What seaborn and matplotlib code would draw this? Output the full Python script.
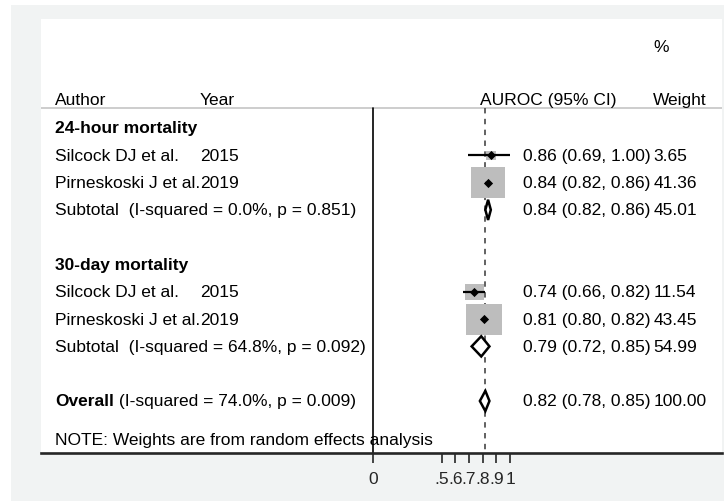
import numpy as np
import pandas as pd
import seaborn as sns
import matplotlib.pyplot as plt
from matplotlib.patches import Rectangle, Polygon
from matplotlib.path import Path
import matplotlib.transforms as mtransforms

# ---- data -------------------------------------------------------------
groups = ["24-hour mortality", "30-day mortality"]
study_group = [0, 0, 1, 1]
authors = ["Silcock DJ et al.", "Pirneskoski J et al.", "Silcock DJ et al.", "Pirneskoski J et al."]
years = ["2015", "2019", "2015", "2019"]
est = [0.86, 0.84, 0.74, 0.81]
lo = [0.69, 0.82, 0.66, 0.80]
hi = [1.00, 0.86, 0.82, 0.82]
weight = [3.65, 41.36, 11.54, 43.45]

sub_est = [0.84, 0.79]
sub_lo = [0.82, 0.72]
sub_hi = [0.86, 0.85]
sub_weight = [45.01, 54.99]
sub_het = ["(I-squared = 0.0%, p = 0.851)", "(I-squared = 64.8%, p = 0.092)"]

overall_est, overall_lo, overall_hi, overall_weight = 0.82, 0.78, 0.85, 100.00
overall_het = "(I-squared = 74.0%, p = 0.009)"

tick_values = [0, 0.5, 0.6, 0.7, 0.8, 0.9, 1.0]
tick_labels = ["0", ".5", ".6", ".7", ".8", ".9", "1"]

# ---- row layout -------------------------------------------------------
y = 0
study_rows = []
sub_rows = []
group_rows = []
for g in range(len(groups)):
    group_rows.append(y)
    y += 1
    for i, sg in enumerate(study_group):
        if sg == g:
            study_rows.append(y)
            y += 1
    sub_rows.append(y)
    y += 2
overall_row = y
note_row = overall_row + 1.4

df = pd.DataFrame({"est": est, "lo": lo, "hi": hi, "weight": weight, "row": study_rows})

# ---- style ------------------------------------------------------------
sns.set_theme(style="white")
plt.rcParams["font.family"] = ["Liberation Sans", "DejaVu Sans"]
FS = 12.5

fig = plt.figure(figsize=(7.26, 5.02), dpi=100)
fig.patch.set_facecolor("white")
# light grey frame behind the plot panel
fig.patches.append(Rectangle((11 / 726, 0), 713 / 726, 496 / 502,
                             transform=fig.transFigure, facecolor="#f1f3f3",
                             edgecolor="none", zorder=-10))

ax = fig.add_axes([41 / 726, 48 / 502, 681 / 726, 434 / 502])
ax.set_zorder(1)
ax.set_facecolor("white")

for s in ["top", "left", "right"]:
    ax.spines[s].set_visible(False)
ax.spines["bottom"].set_linewidth(1.9)
ax.spines["bottom"].set_color("#262626")

header_y = -0.72
ymax_row = 11.905
ax.axhline(header_y, color="#c9c9c9", lw=1.3, zorder=1)
ax.plot([0, 0], [header_y, ymax_row], color="black", lw=1.2, zorder=2)
ax.plot([overall_est, overall_est], [header_y, ymax_row - 0.1],
        color="#555555", lw=1.3, dashes=(3, 3), zorder=2)

# weight boxes (area proportional to weight)
box = Path([(-0.575, -0.5), (0.575, -0.5), (0.575, 0.5), (-0.575, 0.5), (-0.575, -0.5)],
           [Path.MOVETO, Path.LINETO, Path.LINETO, Path.LINETO, Path.CLOSEPOLY])
wmax = max(weight)
sns.scatterplot(data=df, x="est", y="row", size="weight", sizes=(0, 15.2 * wmax),
                size_norm=(0, wmax), marker=box, color="#bdbdbd", linewidth=0,
                legend=False, ax=ax, zorder=3)
# confidence intervals
ax.hlines(df["row"], df["lo"], df["hi"], color="black", lw=1.6, zorder=4)
# point estimates
sns.scatterplot(data=df, x="est", y="row", marker="D", s=22, color="black",
                linewidth=0, legend=False, ax=ax, zorder=5)


def diamond(e, l, h, r):
    hh = 0.37
    ax.add_patch(Polygon([(l, r), (e, r - hh), (h, r), (e, r + hh)], closed=True,
                         facecolor="white", edgecolor="black", lw=1.8, zorder=5))


for e, l, h, r in zip(sub_est, sub_lo, sub_hi, sub_rows):
    diamond(e, l, h, r)
diamond(overall_est, overall_lo, overall_hi, overall_row)

ax.set_xlim(-2.4234, 2.5474)
ax.set_ylim(11.905, -3.99)
ax.set_xticks(tick_values)
ax.set_xticklabels(tick_labels, fontsize=FS)
ax.set_yticks([])
ax.tick_params(axis="x", direction="out", length=7.5, width=1.2, color="#262626",
               pad=5.5, bottom=True)
ax.set_xlabel("")
ax.set_ylabel("")

# ---- text columns -----------------------------------------------------
tr = mtransforms.blended_transform_factory(ax.transAxes, ax.transData)
X_AUTH, X_YEAR, X_CI, X_W, X_HEAD_CI = 0.0206, 0.2335, 0.708, 0.899, 0.645


def txt(x, yv, s, **kw):
    return ax.text(x, yv, s, transform=tr, fontsize=FS, va="center", ha="left",
                   color="black", **kw)


def ci_text(e, l, h):
    return f"{e:.2f} ({l:.2f}, {h:.2f})"


txt(X_W, -3.0, "%")
txt(X_AUTH, -1.06, "Author")
txt(X_YEAR, -1.06, "Year")
txt(X_HEAD_CI, -1.06, "AUROC (95% CI)")
txt(X_W, -1.06, "Weight")

for g, r in enumerate(group_rows):
    txt(X_AUTH, r, groups[g], fontweight="bold")
for i, r in enumerate(study_rows):
    txt(X_AUTH, r, authors[i])
    txt(X_YEAR, r, years[i])
    txt(X_CI, r, ci_text(est[i], lo[i], hi[i]))
    txt(X_W, r, f"{weight[i]:.2f}")
for g, r in enumerate(sub_rows):
    txt(X_AUTH, r, "Subtotal  " + sub_het[g])
    txt(X_CI, r, ci_text(sub_est[g], sub_lo[g], sub_hi[g]))
    txt(X_W, r, f"{sub_weight[g]:.2f}")

t_bold = txt(X_AUTH, overall_row, "Overall", fontweight="bold")
ax.annotate(" " + overall_het, xy=(1, 0), xycoords=t_bold, va="bottom", ha="left",
            fontsize=FS, color="black")
txt(X_CI, overall_row, ci_text(overall_est, overall_lo, overall_hi))
txt(X_W, overall_row, f"{overall_weight:.2f}")

txt(X_AUTH, note_row, "NOTE: Weights are from random effects analysis", zorder=6)

fig.savefig("out.png", dpi=100, facecolor=fig.get_facecolor())
